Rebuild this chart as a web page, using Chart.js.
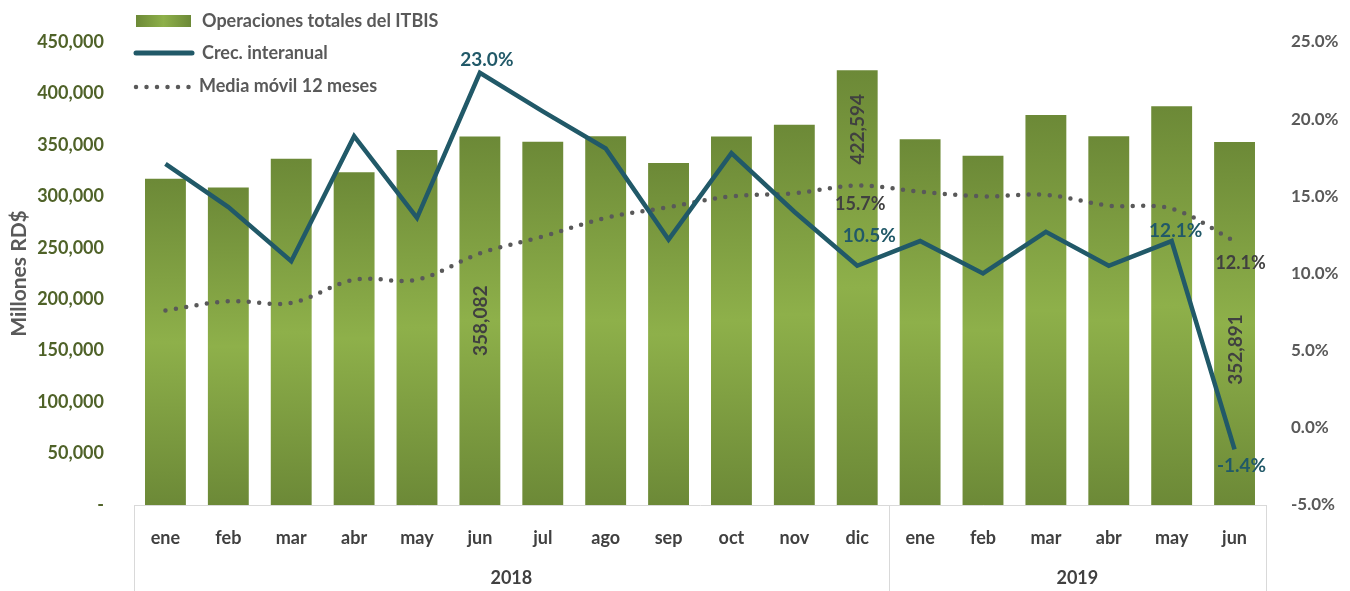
<!DOCTYPE html>
<html><head><meta charset="utf-8">
<script src="https://cdn.jsdelivr.net/npm/chart.js@4"></script>
<style>html,body{margin:0;padding:0;background:#fff;overflow:hidden}</style>
</head><body>
<canvas id="c" width="1350" height="591"></canvas>
<script>
// ---- data ----
const months = ['ene','feb','mar','abr','may','jun','jul','ago','sep','oct','nov','dic','ene','feb','mar','abr','may','jun'];
const years = ['2018','2019'];
const yearSpans = [12, 6];
const operaciones = [317000,308500,336500,323500,345000,358082,353000,358300,332500,358200,369500,422594,355500,339500,379000,358500,387500,352891];
const crecimiento = [17.1,14.3,10.8,18.9,13.6,23.0,20.5,18.1,12.2,17.8,14.0,10.5,12.1,10.0,12.7,10.5,12.1,-1.4];
const mediaMovil = [7.6,8.2,8.1,9.6,9.6,11.3,12.4,13.6,14.3,15.0,15.2,15.7,15.3,15.0,15.1,14.4,14.2,12.1];
const leftTicks = [0,50000,100000,150000,200000,250000,300000,350000,400000,450000];
const rightTicks = [-5,0,5,10,15,20,25];
const seriesNames = ['Operaciones totales del ITBIS','Crec. interanual','Media móvil 12 meses'];
const axisTitle = 'Millones RD$';
const barLabelIdx = [5, 11, 17];
const crecLabelIdx = [5, 11, 16, 17];
const mediaLabelIdx = [11, 17];

const FONT = 'Lato';
const TEAL = '#215968';
const GREY = '#595959';
const DARK = '#404040';

function barGradient(c, yt, yb) {
  const g = c.createLinearGradient(0, yt, 0, yb);
  g.addColorStop(0, '#6c8937');
  g.addColorStop(0.5, '#8eb04a');
  g.addColorStop(1, '#6c8937');
  return g;
}

const decorPlugin = {
  id: 'decor',
  afterDatasetsDraw(chart) {
    const c = chart.ctx, ca = chart.chartArea, x = chart.scales.x;
    c.save();
    // category table lines
    c.strokeStyle = '#d9d9d9'; c.lineWidth = 1;
    let idx = 0; const seps = [ca.left];
    yearSpans.forEach((n) => { idx += n; seps.push(idx >= months.length ? ca.right : (x.getPixelForTick(idx - 1) + x.getPixelForTick(idx)) / 2); });
    seps.forEach(px => { c.beginPath(); c.moveTo(Math.round(px) + 0.5, ca.bottom); c.lineTo(Math.round(px) + 0.5, 591); c.stroke(); });
    // year labels
    c.fillStyle = DARK; c.font = 'bold 18px ' + FONT; c.textAlign = 'center'; c.textBaseline = 'middle';
    for (let i = 0; i < years.length; i++) c.fillText(years[i], (seps[i] + seps[i + 1]) / 2, 578);

    // bar labels (rotated)
    const barMeta = chart.getDatasetMeta(0);
    const barOff = {5: 0, 11: null, 17: 26};
    c.fillStyle = DARK; c.font = 'bold 19px ' + FONT;
    barLabelIdx.forEach(i => {
      const el = barMeta.data[i];
      let cy = barOff[i] === null ? el.y + 59 : (el.y + el.base) / 2 + barOff[i];
      c.save(); c.translate(el.x + 1, cy); c.rotate(-Math.PI / 2);
      c.fillText(operaciones[i].toLocaleString('en-US'), 0, 0); c.restore();
    });
    // growth labels
    const cm = chart.getDatasetMeta(1);
    const cOff = {5: [7, -13], 11: [12, -30], 16: [4, -10], 17: [7, 16]};
    c.fillStyle = TEAL; c.font = 'bold 19px ' + FONT;
    crecLabelIdx.forEach(i => { const p = cm.data[i]; c.fillText(crecimiento[i].toFixed(1) + '%', p.x + cOff[i][0], p.y + cOff[i][1]); });
    // moving average labels
    const mm = chart.getDatasetMeta(2);
    const mOff = {11: [3, 19], 17: [6, 22]};
    c.fillStyle = DARK; c.font = 'bold 18px ' + FONT;
    mediaLabelIdx.forEach(i => { const p = mm.data[i]; c.fillText(mediaMovil[i].toFixed(1) + '%', p.x + mOff[i][0], p.y + mOff[i][1]); });

    // legend
    c.textAlign = 'left'; c.font = 'bold 18px ' + FONT;
    const lg = c.createLinearGradient(136, 0, 191, 0);
    lg.addColorStop(0, '#6c8937'); lg.addColorStop(0.5, '#8eb04a'); lg.addColorStop(1, '#6c8937');
    c.fillStyle = lg; c.fillRect(136, 15, 55, 12);
    c.strokeStyle = TEAL; c.lineWidth = 5; c.lineCap = 'round';
    c.beginPath(); c.moveTo(136, 53); c.lineTo(192, 53); c.stroke();
    c.strokeStyle = GREY; c.lineWidth = 4.5; c.setLineDash([0, 10.5]);
    c.beginPath(); c.moveTo(136, 87); c.lineTo(192, 87); c.stroke();
    c.setLineDash([]);
    c.fillStyle = GREY;
    c.fillText(seriesNames[0], 202, 21);
    c.fillText(seriesNames[1], 202, 53);
    c.fillText(seriesNames[2], 199, 86);
    c.restore();
  }
};

new Chart(document.getElementById('c'), {
  data: {
    labels: months,
    datasets: [
      {
        type: 'bar', label: seriesNames[0], data: operaciones, yAxisID: 'y', order: 3,
        barPercentage: 0.65, categoryPercentage: 1,
        backgroundColor: (ctx) => {
          const ch = ctx.chart;
          if (!ch.chartArea || ctx.type !== 'data') return '#7d9c41';
          const y = ch.scales.y;
          return barGradient(ch.ctx, y.getPixelForValue(ctx.raw), y.getPixelForValue(0));
        },
        borderWidth: 0
      },
      {
        type: 'line', label: seriesNames[1], data: crecimiento, yAxisID: 'y1', order: 1,
        borderColor: TEAL, borderWidth: 4.5, pointRadius: 0, tension: 0, fill: false,
        borderJoinStyle: 'miter'
      },
      {
        type: 'line', label: seriesNames[2], data: mediaMovil, yAxisID: 'y1', order: 2,
        borderColor: GREY, borderWidth: 4.5, borderDash: [0, 10.5], borderCapStyle: 'round',
        pointRadius: 0, tension: 0.35, fill: false
      }
    ]
  },
  options: {
    responsive: false, animation: false, devicePixelRatio: 1,
    layout: { padding: { top: 42, bottom: 0, left: 0, right: 0 } },
    plugins: { legend: { display: false }, tooltip: { enabled: false } },
    scales: {
      x: {
        grid: { display: false, drawTicks: false },
        border: { display: true, color: '#d9d9d9', width: 1 },
        ticks: { color: DARK, font: { family: FONT, size: 18, weight: 'bold' }, padding: 22, maxRotation: 0, autoSkip: false },
        afterFit(s) { s.height = 86; }
      },
      y: {
        position: 'left', min: 0, max: 450000,
        afterBuildTicks(s) { s.ticks = leftTicks.map(v => ({ value: v })); },
        grid: { display: false }, border: { display: false },
        ticks: { color: '#4f6228', font: { family: FONT, size: 18, weight: 'bold' }, padding: 22,
          callback: v => v === 0 ? '-' : v.toLocaleString('en-US') },
        title: { display: true, text: axisTitle, color: GREY, font: { family: FONT, size: 21, weight: 'bold' }, padding: { top: 7, bottom: 0 } },
        afterFit(s) { s.width = 134; }
      },
      y1: {
        position: 'right', min: -5, max: 25,
        afterBuildTicks(s) { s.ticks = rightTicks.map(v => ({ value: v })); },
        grid: { display: false }, border: { display: false },
        ticks: { color: GREY, font: { family: FONT, size: 17, weight: 'bold' }, padding: 17,
          callback: v => v.toFixed(1) + '%' },
        afterFit(s) { s.width = 84; }
      }
    }
  },
  plugins: [decorPlugin]
});
</script>
</body></html>
